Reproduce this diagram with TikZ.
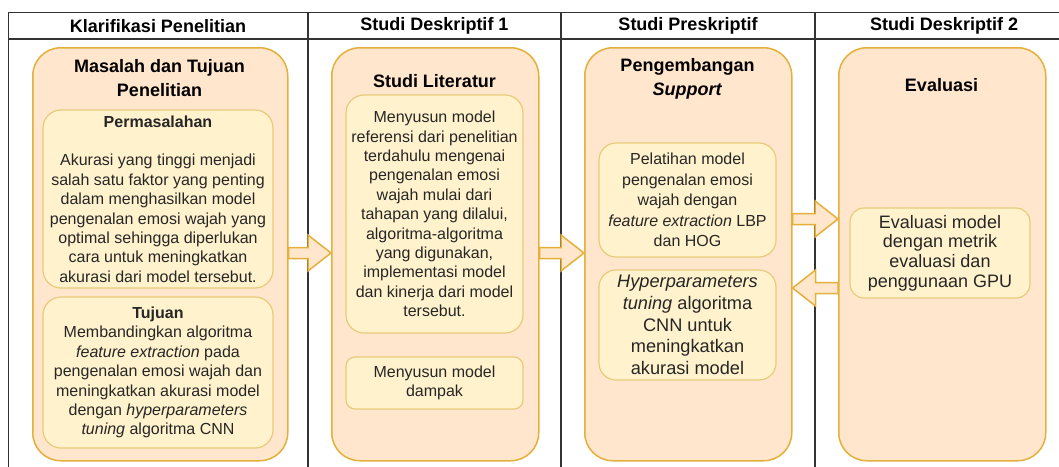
\documentclass[tikz,border=0pt]{standalone}
\usepackage{fontspec}
\setmainfont{Liberation Sans}
\usetikzlibrary{calc}
\definecolor{outerfill}{HTML}{FFE6CC}
\definecolor{outerline}{HTML}{E5B03A}
\definecolor{innerfill}{HTML}{FFF2CC}
\definecolor{innerline}{HTML}{E8CB7A}
\definecolor{gridline}{HTML}{333333}
\definecolor{txt}{HTML}{262626}
\begin{document}
\begin{tikzpicture}[x=1pt,y=-1pt,
  outerbox/.style={draw=outerline, fill=outerfill, line width=1.5pt, rounded corners=28pt, inner sep=0pt, anchor=north west},
  innerbox/.style={draw=innerline, fill=innerfill, line width=1.2pt, align=center, inner sep=0pt, text=txt},
  body/.style={font=\fontsize{16}{19.4}\selectfont},
  hdr/.style={font=\bfseries\fontsize{18}{21.6}\selectfont, inner sep=0pt},
  ttl/.style={font=\bfseries\fontsize{18}{24}\selectfont, align=center, inner sep=0pt},
  barrow/.style={draw=outerline, fill=outerfill, line width=1.5pt, line join=miter},
  grid/.style={draw=gridline, line width=1.4pt}
]
\useasboundingbox (0,0) rectangle (1059,466);
% table
\coordinate (tl) at (8.7,12.5);
\coordinate (tr) at (1062,12.5);
\coordinate (hl) at (8.7,39);
\coordinate (hr) at (1062,39);
\coordinate (bl) at (8.7,470);
\draw[grid] (tr) -- (tl) -- (bl);
\draw[grid] (hl) -- (hr);
\foreach \cx/\nm in {308/c1,561/c2,815/c3}{
  \coordinate (\nm t) at (\cx,12.5);
  \coordinate (\nm b) at (\cx,470);
  \draw[grid] (\nm t) -- (\nm b);
}
\node[hdr] (h1) at (158,26) {Klarifikasi Penelitian};
\node[hdr] (h2) at (434.5,26) {Studi Deskriptif 1};
\node[hdr] (h3) at (688,26) {Studi Preskriptif};
\node[hdr] (h4) at (944,26) {Studi Deskriptif 2};

% big boxes
\node[outerbox, minimum width=255pt, minimum height=413pt] (b1) at (32,47) {};
\node[outerbox, minimum width=207pt, minimum height=413pt] (b2) at (331,47) {};
\node[outerbox, minimum width=207pt, minimum height=413pt] (b3) at (584,47) {};
\node[outerbox, minimum width=207pt, minimum height=413pt] (b4) at (838,47) {};

\node[ttl] (t1) at (159.5,78) {Masalah dan Tujuan\\Penelitian};
\node[ttl] (t2) at (434.5,81) {Studi Literatur};
\node[ttl] (t3) at (687.5,78.5) {Pengembangan\\\textit{Support}};
\node[ttl] (t4) at (941.5,85) {Evaluasi};

% inner boxes
\node[innerbox, body, rounded corners=18pt, minimum width=230pt, minimum height=178pt] (p1) at (158,199)
  {\textbf{Permasalahan}\\[19.4pt]Akurasi yang tinggi menjadi\\salah satu faktor yang penting\\dalam menghasilkan model\\pengenalan emosi wajah yang\\optimal sehingga diperlukan\\cara untuk meningkatkan\\akurasi dari model tersebut.};
\node[innerbox, body, rounded corners=18pt, minimum width=230pt, minimum height=151pt] (p2) at (158,372.5)
  {\textbf{Tujuan}\\Membandingkan algoritma\\\textit{feature extraction} pada\\pengenalan emosi wajah dan\\meningkatkan akurasi model\\dengan \textit{hyperparameters}\\\textit{tuning} algoritma CNN};
\node[innerbox, body, rounded corners=18pt, minimum width=177pt, minimum height=238pt] (q1) at (434.5,214)
  {Menyusun model\\referensi dari penelitian\\terdahulu mengenai\\pengenalan emosi\\wajah mulai dari\\tahapan yang dilalui,\\algoritma-algoritma\\yang digunakan,\\implementasi model\\dan kinerja dari model\\tersebut.};
\node[innerbox, body, rounded corners=9pt, minimum width=177pt, minimum height=52pt] (q2) at (434.5,383)
  {Menyusun model\\dampak};
\node[innerbox, font=\fontsize{16}{20.5}\selectfont, rounded corners=17pt, minimum width=177pt, minimum height=114pt] (r1) at (687.5,200)
  {Pelatihan model\\pengenalan emosi\\wajah dengan\\\textit{feature extraction} LBP\\dan HOG};
\node[innerbox, font=\fontsize{18.2}{21.7}\selectfont, rounded corners=17pt, minimum width=177pt, minimum height=110pt] (r2) at (687.5,325)
  {\textit{Hyperparameters}\\\textit{tuning} algoritma\\CNN untuk\\meningkatkan\\akurasi model};
\node[innerbox, font=\fontsize{18}{19.6}\selectfont, rounded corners=14pt, minimum width=180pt, minimum height=90pt] (s1) at (940,253)
  {Evaluasi model\\dengan metrik\\evaluasi dan\\penggunaan GPU};

% block arrows
\coordinate (ya) at (0,253);
\coordinate (yb) at (0,219);
\coordinate (yc) at (0,288);
\path[barrow] let \p1=(b1.east |- ya), \p2=(b2.west |- ya) in
  ({\x1},{\y1-5.5pt}) -- ({\x2-23pt},{\y1-5.5pt}) -- ({\x2-23pt},{\y1-18pt}) -- (\x2,\y1)
  -- ({\x2-23pt},{\y1+18pt}) -- ({\x2-23pt},{\y1+5.5pt}) -- ({\x1},{\y1+5.5pt}) -- cycle;
\path[barrow] let \p1=(b2.east |- ya), \p2=(b3.west |- ya) in
  ({\x1},{\y1-5.5pt}) -- ({\x2-23pt},{\y1-5.5pt}) -- ({\x2-23pt},{\y1-18pt}) -- (\x2,\y1)
  -- ({\x2-23pt},{\y1+18pt}) -- ({\x2-23pt},{\y1+5.5pt}) -- ({\x1},{\y1+5.5pt}) -- cycle;
\path[barrow] let \p1=(b3.east |- yb), \p2=(b4.west |- yb) in
  ({\x1},{\y1-5.5pt}) -- ({\x2-23pt},{\y1-5.5pt}) -- ({\x2-23pt},{\y1-18pt}) -- (\x2,\y1)
  -- ({\x2-23pt},{\y1+18pt}) -- ({\x2-23pt},{\y1+5.5pt}) -- ({\x1},{\y1+5.5pt}) -- cycle;
\path[barrow] let \p1=(b4.west |- yc), \p2=(b3.east |- yc) in
  ({\x1},{\y1-5.5pt}) -- ({\x2+23pt},{\y1-5.5pt}) -- ({\x2+23pt},{\y1-18pt}) -- (\x2,\y1)
  -- ({\x2+23pt},{\y1+18pt}) -- ({\x2+23pt},{\y1+5.5pt}) -- ({\x1},{\y1+5.5pt}) -- cycle;
\end{tikzpicture}
\end{document}
